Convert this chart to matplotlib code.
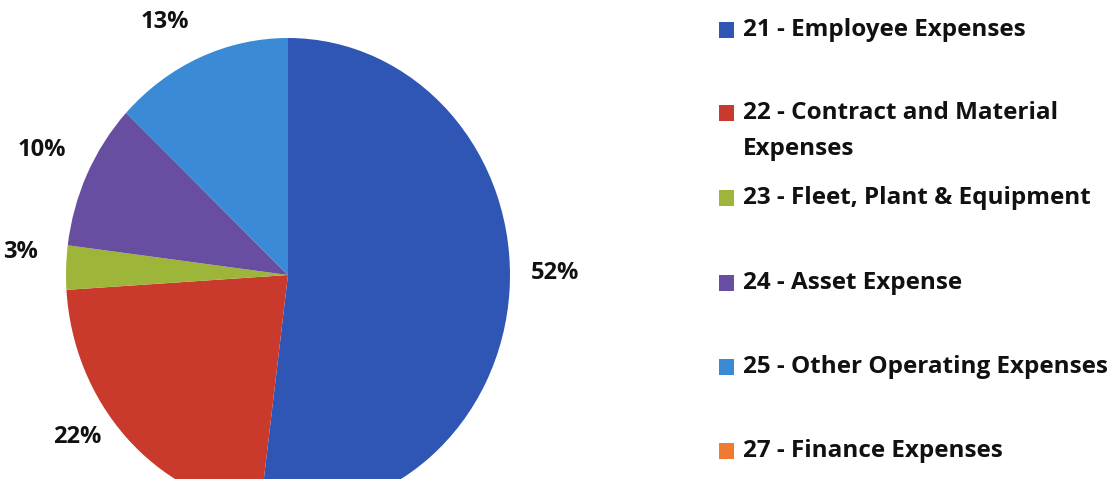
import matplotlib
matplotlib.use("Agg")
import matplotlib.pyplot as plt
from matplotlib.patches import Rectangle

plt.rcParams['font.family'] = ['Open Sans', 'DejaVu Sans']

categories = [
    "21 - Employee Expenses",
    "22 - Contract and Material\nExpenses",
    "23 - Fleet, Plant & Equipment",
    "24 - Asset Expense",
    "25 - Other Operating Expenses",
    "27 - Finance Expenses",
]
values = [52, 22, 3, 10, 13, 0]
colors = ["#2F55B5", "#C93A2C", "#9DB63A", "#674EA0", "#3A8AD6", "#F07A30"]

W, H = 1117, 479
fig = plt.figure(figsize=(W / 100, H / 100), dpi=100)
fig.patch.set_facecolor("white")

# pie axes placed in pixel coordinates (pie is slightly taller than wide and cut at bottom)
cx, cy, rx, ry = 288, 275, 222, 237
ax = fig.add_axes([(cx - rx) / W, (H - (cy + ry)) / H, 2 * rx / W, 2 * ry / H])

def fmt(p):
    return f"{p:.0f}%" if p > 0.5 else ""

wedges, texts, autotexts = ax.pie(
    values, colors=colors, startangle=90, counterclock=False,
    autopct=fmt, pctdistance=1.2,
    wedgeprops=dict(linewidth=0),
    textprops=dict(fontsize=17, fontweight="bold", color="#111111"),
)
ax.set_aspect("auto")
ax.set_xlim(-1, 1)
ax.set_ylim(-1, 1)
ax.axis("off")

# label centres in pixel space (layout)
label_px = [(555, 273), (77, 437), (20, 252), (42, 150), (165, 22), None]
for t, pos in zip(autotexts, label_px):
    if pos is not None:
        t.set_position(((pos[0] - cx) / rx, (cy - pos[1]) / ry))
        t.set_ha("center")
        t.set_va("center")

# legend drawn manually
leg_y = [30, 113, 198, 283, 367, 451]
for lab, col, y in zip(categories, colors, leg_y):
    fig.patches.append(Rectangle((719 / W, (H - y - 8) / H), 15 / W, 16 / H,
                                 transform=fig.transFigure, facecolor=col,
                                 edgecolor="none"))
    for i, line in enumerate(lab.split("\n")):
        fig.text(743 / W, (H - y - i * 36) / H, line, fontsize=17.5,
                 fontweight="bold", color="#111111", va="center", ha="left")

fig.savefig("out.png", dpi=100, facecolor="white")
